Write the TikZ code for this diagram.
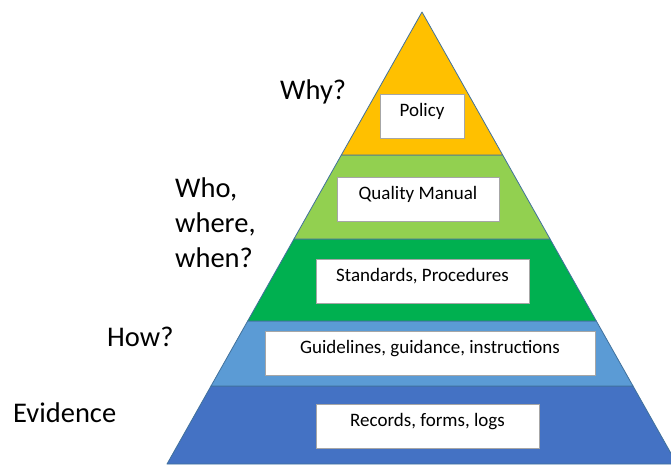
\documentclass[tikz,border=0pt]{standalone}
\usepackage{fontspec}
\setmainfont{Carlito}
\usetikzlibrary{calc}
\definecolor{oro}{HTML}{FFC000}
\definecolor{verdechiaro}{HTML}{92D050}
\definecolor{verde}{HTML}{00B050}
\definecolor{azzurro}{HTML}{5B9BD5}
\definecolor{blu}{HTML}{4472C4}
\definecolor{bordo}{HTML}{41719C}
\tikzset{
strato/.style={draw=bordo,line width=0.8pt,line join=round},
scatola/.style={draw=gray!70,fill=white,line width=0.7pt,inner sep=0pt,
  minimum height=44pt,text height=12.5pt,text depth=12.5pt,
  font=\fontsize{19}{23}\selectfont},
domanda/.style={align=left,inner sep=0pt,anchor=base west,
  font=\fontsize{28.5}{35}\selectfont}}

\begin{document}
\begin{tikzpicture}[x=1pt,y=-1pt]
\useasboundingbox (0,0) rectangle (671,464);

\coordinate (apice) at (422,12);
\coordinate (bl) at (167,464);
\coordinate (br) at (677,464);

% livelli della piramide
\coordinate (l1) at ($(apice)!0.3164!(bl)$); \coordinate (r1) at ($(apice)!0.3164!(br)$);
\coordinate (l2) at ($(apice)!0.5022!(bl)$); \coordinate (r2) at ($(apice)!0.5022!(br)$);
\coordinate (l3) at ($(apice)!0.6836!(bl)$); \coordinate (r3) at ($(apice)!0.6836!(br)$);
\coordinate (l4) at ($(apice)!0.8274!(bl)$); \coordinate (r4) at ($(apice)!0.8274!(br)$);

\fill[blu,strato] (l4) -- (r4) -- (br) -- (bl) -- cycle;
\fill[azzurro,strato] (l3) -- (r3) -- (r4) -- (l4) -- cycle;
\fill[verde,strato] (l2) -- (r2) -- (r3) -- (l3) -- cycle;
\fill[verdechiaro,strato] (l1) -- (r1) -- (r2) -- (l2) -- cycle;
\fill[oro,strato] (apice) -- (r1) -- (l1) -- cycle;

\node[scatola,minimum width=84pt] (policy) at (422,116) {Policy};
\node[scatola,minimum width=162pt] (manual) at (418,199) {Quality Manual};
\node[scatola,minimum width=213pt] (standards) at (422.5,281) {Standards, Procedures};
\node[scatola,minimum width=330pt] (guidelines) at (430,353) {Guidelines, guidance, instructions};
\node[scatola,minimum width=223pt] (records) at (427.5,426) {Records, forms, logs};

\node[domanda] (why) at (280,99) {Why?};
\node[domanda] (who) at (175,267) {Who,\\where,\\when?};
\node[domanda] (how) at (107,346) {How?};
\node[domanda] (evidence) at (13,422) {Evidence};

\end{tikzpicture}
\end{document}
